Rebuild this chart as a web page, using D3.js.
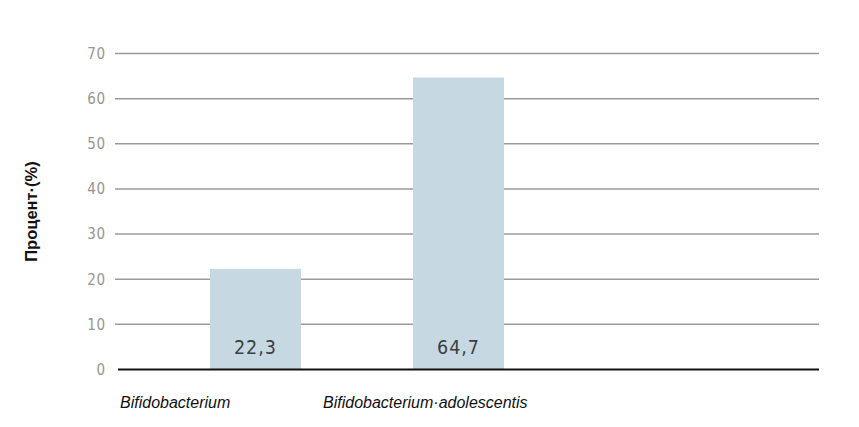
<!DOCTYPE html>
<html><head><meta charset="utf-8">
<script src="https://cdn.jsdelivr.net/npm/d3@7"></script>
<style>body{margin:0;background:#fff}</style>
</head><body>
<script>
const categories = ["Bifidobacterium", "Bifidobacterium·adolescentis"];
const values = [22.3, 64.7];
const valueLabels = ["22,3", "64,7"];
const yTicks = [0, 10, 20, 30, 40, 50, 60, 70];
const yTitle = "Процент·(%)";

const W = 859, H = 427;
const svg = d3.select("body").append("svg").attr("width", W).attr("height", H);

const y = d3.scaleLinear().domain([0, 70]).range([369.5, 53.5]);
const x = d3.scaleBand().domain(categories).range([108.5, 605.5]).paddingInner(0.552).paddingOuter(0.5);

// gridlines
svg.append("g").selectAll("line").data(yTicks.filter(d => d > 0)).join("line")
  .attr("x1", 115).attr("x2", 819)
  .attr("y1", d => y(d)).attr("y2", d => y(d))
  .attr("stroke", "#9a9a9a").attr("stroke-width", 1.5);

// tick labels
svg.append("g").selectAll("text").data(yTicks).join("text")
  .attr("x", 106).attr("y", d => y(d)).attr("dy", "0.36em")
  .attr("text-anchor", "end")
  .attr("font-family", "'DejaVu Sans Condensed', 'DejaVu Sans', sans-serif")
  .attr("font-size", 15).attr("letter-spacing", 0.8).attr("fill", "#959595")
  .text(d => d);

// bars
svg.append("g").selectAll("rect").data(values).join("rect")
  .attr("x", (d, i) => x(categories[i]))
  .attr("width", x.bandwidth())
  .attr("y", d => y(d))
  .attr("height", d => y(0) - y(d))
  .attr("fill", "#c6d9e3");

// zero line
svg.append("line").attr("x1", 118).attr("x2", 819)
  .attr("y1", y(0)).attr("y2", y(0))
  .attr("stroke", "#111").attr("stroke-width", 2);

// value labels
svg.append("g").selectAll("text").data(valueLabels).join("text")
  .attr("x", (d, i) => x(categories[i]) + x.bandwidth() / 2)
  .attr("y", 354)
  .attr("text-anchor", "middle")
  .attr("font-family", "'DejaVu Sans Condensed', 'DejaVu Sans', sans-serif")
  .attr("font-size", 19.5).attr("letter-spacing", 1).attr("fill", "#3a3f44")
  .text(d => d);

// category labels
svg.append("g").selectAll("text").data(categories).join("text")
  .attr("x", d => x(d) - 90)
  .attr("y", 408)
  .attr("font-family", "'Liberation Sans', Arial, sans-serif")
  .attr("font-style", "italic")
  .attr("font-size", 16).attr("fill", "#111")
  .text(d => d);

// y title
svg.append("text")
  .attr("transform", `translate(37, ${y(35)}) rotate(-90)`)
  .attr("text-anchor", "middle")
  .attr("font-family", "'Liberation Sans', Arial, sans-serif")
  .attr("font-weight", "bold")
  .attr("font-size", 16.5).attr("fill", "#111")
  .text(yTitle);
</script>
</body></html>
